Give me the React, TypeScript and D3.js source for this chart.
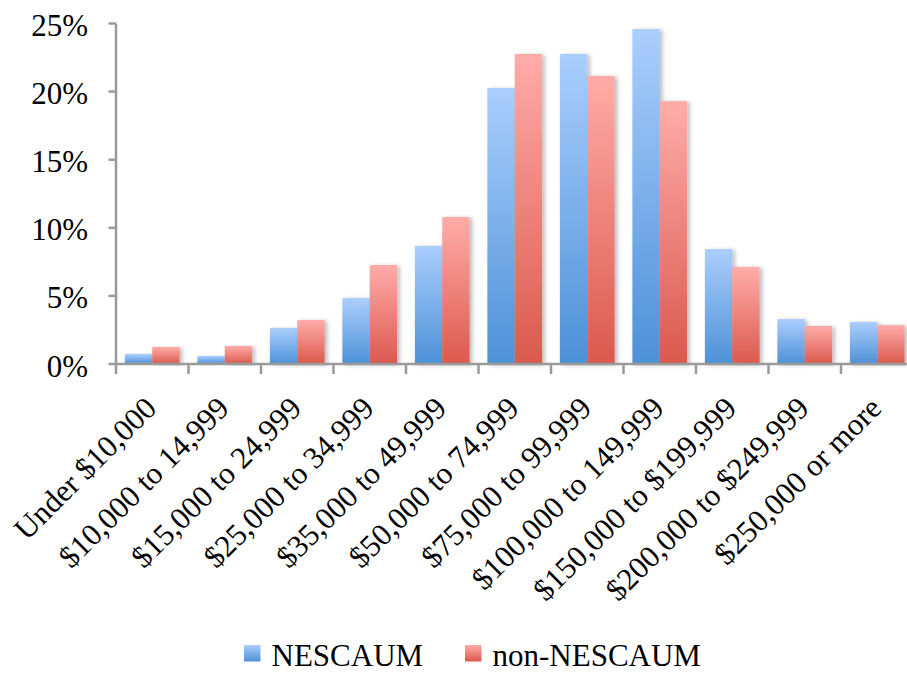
import React from "react";
import * as d3 from "d3";

const categories = [
  "Under $10,000",
  "$10,000 to 14,999",
  "$15,000 to 24,999",
  "$25,000 to 34,999",
  "$35,000 to 49,999",
  "$50,000 to 74,999",
  "$75,000 to 99,999",
  "$100,000 to 149,999",
  "$150,000 to $199,999",
  "$200,000 to $249,999",
  "$250,000 or more",
];

const nescaum = [0.73, 0.59, 2.64, 4.85, 8.66, 20.26, 22.76, 24.6, 8.44, 3.3, 3.08];
const nonNescaum = [1.25, 1.32, 3.23, 7.27, 10.79, 22.76, 21.15, 19.3, 7.12, 2.79, 2.86];

const seriesNames = ["NESCAUM", "non-NESCAUM"];
const yTicks = [0, 5, 10, 15, 20, 25];

const W = 907;
const H = 673;
const FONT = '"Liberation Serif", "Times New Roman", Tinos, "DejaVu Serif", serif';

export default function App() {
  const x = d3.scaleBand<string>().domain(categories).range([116, 913.5]).paddingInner(0).paddingOuter(0);
  const inner = d3
    .scaleBand<string>()
    .domain(seriesNames)
    .range([0, x.bandwidth()])
    .paddingOuter(0.325)
    .paddingInner(0);
  const y = d3.scaleLinear().domain([0, 25]).range([364, 23.5]);

  const series = [
    { name: seriesNames[0], values: nescaum, grad: "gradBlue" },
    { name: seriesNames[1], values: nonNescaum, grad: "gradRed" },
  ];

  const axisColor = "#9a9a9a";
  const x0 = x.range()[0];
  const textStyle = { fontFamily: FONT, fontSize: 31 };

  return (
    <svg
      width={W}
      height={H}
      style={{ position: "absolute", left: 0, top: 0, background: "#fff" }}
    >
      <defs>
        <linearGradient id="gradBlue" x1="0" y1="0" x2="0" y2="1">
          <stop offset="0%" stopColor="#abcefd" />
          <stop offset="100%" stopColor="#4d91d7" />
        </linearGradient>
        <linearGradient id="gradRed" x1="0" y1="0" x2="0" y2="1">
          <stop offset="0%" stopColor="#ffaca9" />
          <stop offset="100%" stopColor="#db594d" />
        </linearGradient>
        <filter id="barShadow" x="-20%" y="-5%" width="150%" height="115%">
          <feDropShadow dx="2.5" dy="1" stdDeviation="2" floodColor="#000" floodOpacity="0.28" />
        </filter>
      </defs>

      {/* bars */}
      {categories.map((c, i) => (
        <g key={c}>
          {series.map((s) => {
            const bx = (x(c) as number) + (inner(s.name) as number);
            const top = y(s.values[i]);
            return (
              <rect
                key={s.name}
                x={bx}
                y={top}
                width={inner.bandwidth()}
                height={y(0) - top}
                fill={`url(#${s.grad})`}
                filter="url(#barShadow)"
              />
            );
          })}
        </g>
      ))}

      {/* y axis */}
      <line x1={x0} x2={x0} y1={y(25)} y2={y(0) + 10} stroke={axisColor} strokeWidth={2.5} />
      {yTicks.map((t) => (
        <g key={t}>
          <line x1={x0 - 7.5} x2={x0} y1={y(t)} y2={y(t)} stroke={axisColor} strokeWidth={2.5} />
          <text x={88} y={y(t) + 12.5} textAnchor="end" style={textStyle} fill="#000">
            {`${t}%`}
          </text>
        </g>
      ))}

      {/* x axis */}
      <line x1={x0} x2={x.range()[1]} y1={y(0)} y2={y(0)} stroke={axisColor} strokeWidth={2.5} />
      {categories.map((c) => (
        <line
          key={c}
          x1={(x(c) as number) + x.bandwidth()}
          x2={(x(c) as number) + x.bandwidth()}
          y1={y(0)}
          y2={y(0) + 10}
          stroke={axisColor}
          strokeWidth={2.5}
        />
      ))}
      {categories.map((c) => {
        const cx = (x(c) as number) + x.bandwidth() / 2;
        return (
          <text
            key={c}
            transform={`translate(${cx + 6},${410}) rotate(-45)`}
            textAnchor="end"
            style={textStyle}
            fill="#000"
          >
            {c}
          </text>
        );
      })}

      {/* legend */}
      {series.map((s, i) => {
        const lx = i === 0 ? 244 : 465;
        return (
          <g key={s.name}>
            <rect x={lx} y={645} width={16.5} height={16.5} fill={`url(#${s.grad})`} />
            <text x={lx + 27.5} y={666} style={textStyle} fill="#000">
              {s.name}
            </text>
          </g>
        );
      })}
    </svg>
  );
}
